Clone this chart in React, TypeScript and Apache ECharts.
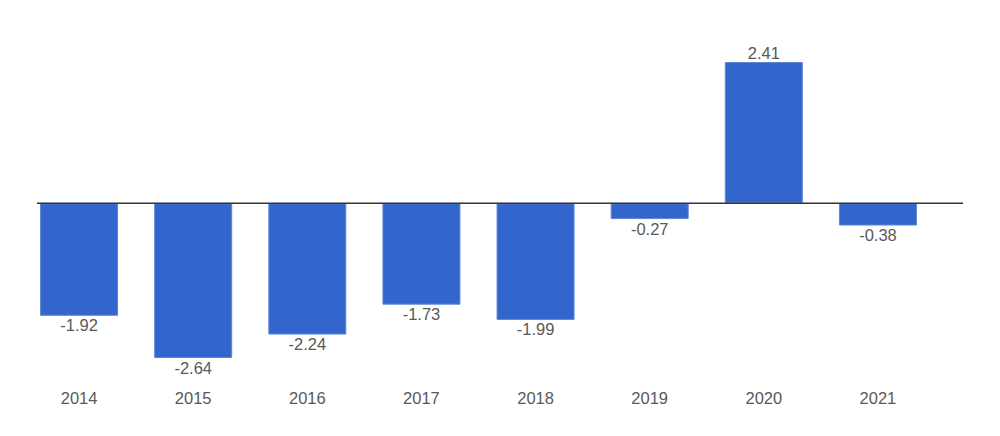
import { useEffect, useRef } from 'react';
import * as echarts from 'echarts';

const years = ['2014', '2015', '2016', '2017', '2018', '2019', '2020', '2021'];
const values = [-1.92, -2.64, -2.24, -1.73, -1.99, -0.27, 2.41, -0.38];

const BAR_COLOR = '#3366cc';
const TEXT_COLOR = '#595959';
const FONT = '"Liberation Sans", Arial, sans-serif';

export default function App() {
  const chartRef = useRef<HTMLDivElement>(null);

  useEffect(() => {
    document.body.style.margin = '0';
    if (!chartRef.current) return;
    const chart = echarts.init(chartRef.current, null, { renderer: 'svg' });

    const option: echarts.EChartsOption = {
      animation: false,
      grid: {
        left: 22,
        right: 65,
        top: 62,
        bottom: 78,
        containLabel: false,
      },
      xAxis: {
        type: 'category',
        data: years,
        axisLine: { show: false, onZero: false },
        axisTick: { show: false },
        splitLine: { show: false },
        axisLabel: {
          color: TEXT_COLOR,
          fontSize: 16.5,
          fontFamily: FONT,
          margin: 31,
        },
      },
      yAxis: {
        type: 'value',
        min: Math.min(...values),
        max: Math.max(...values),
        show: false,
        splitLine: { show: false },
      },
      series: [
        {
          type: 'bar',
          barWidth: 78,
          data: values.map((v) => ({
            value: v,
            label: { position: v < 0 ? 'bottom' : 'top' },
          })),
          itemStyle: {
            color: BAR_COLOR,
            borderColor: '#5d86d6',
            borderWidth: 1,
          },
          label: {
            show: true,
            color: TEXT_COLOR,
            fontSize: 16.5,
            fontFamily: FONT,
            distance: 1,
          },
        },
      ],
    };

    chart.setOption(option);

    // baseline across the plot at value 0
    const zeroY = chart.convertToPixel({ yAxisIndex: 0 }, 0) as number;
    chart.setOption({
      graphic: [
        {
          type: 'line',
          z: 10,
          shape: { x1: 37, y1: zeroY, x2: 963, y2: zeroY },
          style: { stroke: '#333333', lineWidth: 1.5 },
        },
      ],
    });

    return () => {
      chart.dispose();
    };
  }, []);

  return <div ref={chartRef} style={{ width: 1000, height: 436 }} />;
}
